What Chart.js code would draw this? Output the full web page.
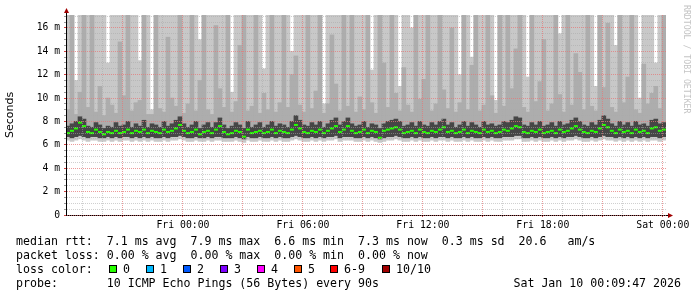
<!DOCTYPE html>
<html>
<head>
<meta charset="utf-8">
<script src="https://cdn.jsdelivr.net/npm/chart.js@4.4.1/dist/chart.umd.min.js"></script>
<style>
  body { margin: 0; background: #fff; }
  #page { position: relative; width: 697px; height: 297px; overflow: hidden; background: #fff; }
  #graph { position: absolute; left: 0; top: 0; }
  .txt { position: absolute; font-family: 'DejaVu Sans Mono', monospace; font-size: 11.6px; line-height: 14px; white-space: pre; color: #000; }
  .box { position: absolute; width: 8px; height: 8px; box-sizing: border-box; border: 1px solid #000; }
  #mark { position: absolute; left: 683px; top: 5px; writing-mode: vertical-rl; font-family: 'DejaVu Sans Mono', monospace; font-size: 8.2px; line-height: 8px; color: #c4c4c4; white-space: pre; }
</style>
</head>
<body>
<div id="page">
  <canvas id="graph" width="697" height="297"></canvas>
  <div id="mark">RRDTOOL / TOBI OETIKER</div>
  <div class="txt" style="left:16px;top:234px">median rtt:  7.1 ms avg  7.9 ms max  6.6 ms min  7.3 ms now  0.3 ms sd  20.6   am/s</div>
  <div class="txt" style="left:16px;top:248px">packet loss: 0.00 % avg  0.00 % max  0.00 % min  0.00 % now</div>
  <div class="txt" style="left:16px;top:262px">loss color:</div>
  <div id="losskey"></div>
  <div class="txt" style="left:16px;top:276px">probe:       10 ICMP Echo Pings (56 Bytes) every 90s</div>
  <div class="txt" style="right:16px;top:276px">Sat Jan 10 00:09:47 2026</div>
</div>
<script>
// time axis: hours relative to Fri 00:00, one sample every 12 minutes
const startHour = -5.85;
const endHour = 24.16;
const stepHour = 0.2;

// hour -> label (only every 6 hours gets text)
const hourLabels = { 0: 'Fri 00:00', 6: 'Fri 06:00', 12: 'Fri 12:00', 18: 'Fri 18:00', 24: 'Sat 00:00' };

// loss legend
const lossNames = ['0', '1', '2', '3', '4', '5', '6-9', '10/10'];
const lossColors = ['#26ff00', '#00b8ff', '#0059ff', '#7e00ff', '#ff00ff', '#ff5500', '#ff0000', '#a10000'];
const lossBoxX = [109, 146, 183, 220, 257, 294, 330, 382];

// median rtt (ms)
const median = [
  7.0, 7.2, 7.4, 7.9, 7.6, 7.1, 7.0, 7.3, 7.1, 6.9,
  7.1, 7.0, 7.2, 7.0, 7.1, 7.3, 7.0, 7.2, 7.1, 7.3,
  7.0, 7.2, 7.1, 7.0, 7.3, 7.1, 7.2, 7.4, 7.7, 7.2,
  7.0, 7.1, 7.3, 6.9, 7.1, 7.2, 7.0, 7.3, 7.6, 7.1,
  6.9, 7.0, 7.2, 7.1, 6.7, 7.3, 7.0, 7.1, 7.2, 7.0,
  7.1, 7.3, 7.0, 7.2, 7.1, 7.0, 7.3, 7.7, 7.4, 7.1,
  7.0, 7.2, 7.1, 7.3, 7.0, 7.2, 7.4, 7.6, 7.1, 7.3,
  7.6, 7.2, 7.0, 7.1, 7.3, 7.0, 7.2, 7.1, 6.6, 7.2,
  7.3, 7.4, 7.5, 7.3, 7.0, 7.1, 7.2, 7.0, 7.3, 7.1,
  7.0, 7.2, 7.1, 7.3, 7.5, 7.1, 7.2, 7.0, 7.1, 7.3,
  7.0, 7.2, 7.1, 7.0, 7.3, 7.1, 7.2, 7.0, 7.1, 7.3,
  7.2, 7.4, 7.6, 7.5, 7.1, 7.0, 7.2, 7.1, 7.3, 7.0,
  7.1, 7.2, 7.0, 7.3, 7.1, 7.2, 7.4, 7.6, 7.3, 7.1,
  7.0, 7.2, 7.1, 7.4, 7.7, 7.5, 7.2, 7.0, 7.3, 7.1,
  7.2, 7.0, 7.3, 7.1, 7.2, 7.0, 7.4, 7.5, 7.2, 7.3
];

// top of the dense dark smoke around the median
const darkTop = [
  7.6, 7.8, 8.0, 8.4, 8.2, 7.6, 7.5, 7.9, 7.7, 7.4,
  7.6, 7.5, 7.9, 7.6, 7.7, 8.0, 7.5, 7.8, 7.6, 8.1,
  7.5, 7.8, 7.7, 7.5, 8.0, 7.6, 7.8, 8.1, 8.4, 7.8,
  7.5, 7.7, 8.0, 7.4, 7.7, 7.9, 7.5, 7.9, 8.3, 7.7,
  7.4, 7.6, 7.9, 7.7, 7.4, 8.0, 7.5, 7.7, 7.9, 7.5,
  7.7, 8.0, 7.6, 7.8, 7.7, 7.5, 8.0, 8.5, 8.1, 7.7,
  7.6, 7.9, 7.7, 8.0, 7.5, 7.8, 8.1, 8.3, 7.7, 8.0,
  8.3, 7.8, 7.6, 7.7, 8.0, 7.5, 7.8, 7.7, 7.4, 7.8,
  8.0, 8.1, 8.2, 8.0, 7.6, 7.7, 7.9, 7.6, 8.0, 7.7,
  7.6, 7.9, 7.7, 8.0, 8.2, 7.7, 7.9, 7.5, 7.7, 8.0,
  7.6, 7.9, 7.7, 7.5, 8.0, 7.7, 7.8, 7.6, 7.7, 8.0,
  7.9, 8.1, 8.4, 8.3, 7.7, 7.6, 7.9, 7.7, 8.0, 7.6,
  7.7, 7.9, 7.6, 8.0, 7.7, 7.8, 8.1, 8.3, 8.0, 7.7,
  7.6, 7.9, 7.7, 8.1, 8.5, 8.2, 7.8, 7.6, 8.0, 7.7,
  7.9, 7.6, 8.0, 7.7, 7.8, 7.6, 8.1, 8.2, 7.8, 7.9
];

// upper edge of the middle grey smoke (2nd highest ping)
const highPing = [
  9.0, 18, 8.6, 10.5, 18, 9.2, 18, 8.8, 11.0, 8.5,
  10.0, 9.4, 8.7, 14.8, 10.2, 18, 8.9, 9.6, 9.8, 18,
  8.6, 8.6, 18, 9.1, 8.8, 15.2, 10.0, 9.3, 18, 8.7,
  9.5, 18, 8.9, 11.5, 18, 9.0, 8.6, 16.2, 10.8, 9.2,
  18, 8.8, 9.7, 14.5, 18, 8.9, 9.3, 18, 8.7, 10.4,
  9.0, 18, 8.8, 9.6, 18, 9.2, 12.0, 13.6, 9.4, 8.8,
  18, 9.1, 10.6, 18, 8.7, 9.5, 15.4, 11.2, 8.9, 18,
  9.3, 18, 8.8, 10.1, 9.0, 18, 9.6, 8.7, 18, 13.0,
  9.2, 18, 10.4, 8.9, 12.6, 9.4, 8.8, 18, 9.9, 11.6,
  18, 8.9, 9.5, 18, 10.7, 9.1, 16.0, 8.8, 9.6, 18,
  9.0, 12.8, 18, 8.9, 9.4, 18, 10.2, 8.7, 18, 9.3,
  18, 10.8, 14.2, 18, 9.2, 8.8, 18, 9.7, 11.4, 15.0,
  8.9, 9.5, 18, 10.3, 8.8, 18, 9.4, 13.8, 12.2, 9.0,
  18, 9.3, 8.9, 18, 10.9, 16.4, 9.2, 8.8, 18, 9.6,
  11.8, 18, 9.0, 8.7, 12.9, 9.5, 10.4, 11.0, 9.1, 18
];

// highest ping of each sample (18 = above the top of the graph)
const maxPing = [
  18, 18, 11.5, 18, 18, 18, 18, 18, 18, 18,
  13, 18, 18, 18, 18, 18, 18, 18, 13.2, 18,
  18, 9, 18, 18, 18, 18, 18, 18, 18, 18,
  18, 18, 18, 15, 18, 18, 18, 18, 18, 18,
  18, 10.5, 18, 18, 18, 18, 18, 18, 18, 12.5,
  18, 18, 18, 18, 18, 18, 14, 18, 18, 18,
  18, 18, 18, 18, 9.5, 18, 18, 18, 18, 18,
  18, 18, 18, 18, 18, 18, 12.4, 18, 18, 18,
  18, 18, 18, 11, 18, 18, 16, 18, 18, 18,
  18, 18, 18, 18, 18, 18, 18, 18, 12, 18,
  18, 13.5, 18, 18, 18, 18, 18, 9.8, 18, 18,
  18, 18, 18, 18, 18, 11.8, 18, 18, 18, 18,
  18, 18, 18, 15.5, 18, 18, 18, 18, 18, 18,
  18, 18, 11, 18, 18, 18, 18, 14.5, 18, 18,
  18, 18, 18, 10, 18, 18, 18, 13, 18, 18
];

// lower edge of the dark / middle smoke (2nd lowest ping)
const lowPing = [
  6.7, 6.6, 6.7, 6.8, 6.7, 6.6, 6.7, 6.7, 6.6, 6.6,
  6.7, 6.6, 6.7, 6.6, 6.7, 6.7, 6.6, 6.7, 6.6, 6.7,
  6.6, 6.7, 6.6, 6.6, 6.7, 6.6, 6.7, 6.7, 6.8, 6.7,
  6.6, 6.6, 6.7, 6.6, 6.6, 6.7, 6.6, 6.7, 6.7, 6.6,
  6.6, 6.6, 6.7, 6.6, 6.5, 6.7, 6.6, 6.6, 6.7, 6.6,
  6.6, 6.7, 6.6, 6.7, 6.6, 6.6, 6.7, 6.8, 6.7, 6.6,
  6.6, 6.7, 6.6, 6.7, 6.6, 6.7, 6.7, 6.8, 6.6, 6.7,
  6.7, 6.7, 6.6, 6.6, 6.7, 6.6, 6.7, 6.6, 6.5, 6.6,
  6.7, 6.7, 6.8, 6.7, 6.6, 6.6, 6.7, 6.6, 6.7, 6.6,
  6.6, 6.7, 6.6, 6.7, 6.7, 6.6, 6.7, 6.6, 6.6, 6.7,
  6.6, 6.7, 6.6, 6.6, 6.7, 6.6, 6.7, 6.6, 6.6, 6.7,
  6.7, 6.7, 6.8, 6.8, 6.6, 6.6, 6.7, 6.6, 6.7, 6.6,
  6.6, 6.7, 6.6, 6.7, 6.6, 6.7, 6.7, 6.8, 6.7, 6.6,
  6.6, 6.7, 6.6, 6.7, 6.8, 6.7, 6.7, 6.6, 6.7, 6.6,
  6.7, 6.6, 6.7, 6.6, 6.7, 6.6, 6.7, 6.7, 6.6, 6.7
];

// lowest ping of each sample
const minPing = [
  6.4, 6.3, 6.4, 6.5, 6.4, 6.3, 6.4, 6.4, 6.3, 6.3,
  6.4, 6.3, 6.4, 6.3, 6.4, 6.4, 6.3, 6.4, 6.3, 6.4,
  6.3, 6.4, 6.3, 6.3, 6.4, 6.3, 6.4, 6.4, 6.5, 6.4,
  6.3, 6.3, 6.4, 6.3, 6.3, 6.4, 6.3, 6.4, 6.4, 6.3,
  6.3, 6.3, 6.4, 6.3, 6.2, 6.4, 6.3, 6.3, 6.4, 6.3,
  6.3, 6.4, 6.3, 6.4, 6.3, 6.3, 6.4, 6.5, 6.4, 6.3,
  6.3, 6.4, 6.3, 6.4, 6.3, 6.4, 6.4, 6.5, 6.3, 6.4,
  6.4, 6.4, 6.3, 6.3, 6.4, 6.3, 6.4, 6.3, 6.2, 6.3,
  6.4, 6.4, 6.5, 6.4, 6.3, 6.3, 6.4, 6.3, 6.4, 6.3,
  6.3, 6.4, 6.3, 6.4, 6.4, 6.3, 6.4, 6.3, 6.3, 6.4,
  6.3, 6.4, 6.3, 6.3, 6.4, 6.3, 6.4, 6.3, 6.3, 6.4,
  6.4, 6.4, 6.5, 6.5, 6.3, 6.3, 6.4, 6.3, 6.4, 6.3,
  6.3, 6.4, 6.3, 6.4, 6.3, 6.4, 6.4, 6.5, 6.4, 6.3,
  6.3, 6.4, 6.3, 6.4, 6.5, 6.4, 6.4, 6.3, 6.4, 6.3,
  6.4, 6.3, 6.4, 6.3, 6.4, 6.3, 6.4, 6.4, 6.3, 6.4
];

const times = median.map((v, i) => startHour + stepHour * i + stepHour / 2);

function band(lo, hi) {
  return times.map((t, i) => ({ x: t, y: [lo[i], hi[i]] }));
}

// loss colour legend boxes
const key = document.getElementById('losskey');
lossNames.forEach((name, i) => {
  const b = document.createElement('div');
  b.className = 'box';
  b.style.left = lossBoxX[i] + 'px';
  b.style.top = '265px';
  b.style.background = lossColors[i];
  key.appendChild(b);
  const t = document.createElement('div');
  t.className = 'txt';
  t.style.left = (lossBoxX[i] + 14) + 'px';
  t.style.top = '262px';
  t.textContent = name;
  key.appendChild(t);
});

const MAJOR = 'rgba(230,120,120,0.75)';
const MINOR = 'rgba(170,170,170,0.55)';

// arrows at the ends of the axes, like rrdtool
const axisArrows = {
  id: 'axisArrows',
  afterDraw(chart) {
    const { ctx, chartArea: a } = chart;
    ctx.save();
    ctx.strokeStyle = '#000';
    ctx.lineWidth = 1;
    ctx.beginPath();
    ctx.moveTo(a.left + 0.5, a.top);
    ctx.lineTo(a.left + 0.5, a.top - 3);
    ctx.moveTo(a.right, a.bottom + 0.5);
    ctx.lineTo(a.right + 3, a.bottom + 0.5);
    ctx.stroke();
    ctx.fillStyle = '#a00000';
    ctx.beginPath();
    ctx.moveTo(a.left - 2, a.top - 2);
    ctx.lineTo(a.left + 3, a.top - 2);
    ctx.lineTo(a.left + 0.5, a.top - 7);
    ctx.closePath();
    ctx.fill();
    ctx.beginPath();
    ctx.moveTo(a.right + 2, a.bottom - 2);
    ctx.lineTo(a.right + 2, a.bottom + 3);
    ctx.lineTo(a.right + 7, a.bottom + 0.5);
    ctx.closePath();
    ctx.fill();
    ctx.restore();
  }
};

const barOpts = { grouped: false, borderWidth: 0, barPercentage: 1, categoryPercentage: 1 };

new Chart(document.getElementById('graph'), {
  type: 'bar',
  data: {
    datasets: [
      {
        type: 'line',
        label: 'median',
        data: times.map((t, i) => ({ x: t, y: median[i] })),
        showLine: false,
        pointStyle: 'line',
        pointRadius: 2,
        pointBorderWidth: 2,
        pointBorderColor: lossColors[0],
        pointBackgroundColor: lossColors[0]
      },
      Object.assign({ label: 'dark', data: band(lowPing, darkTop), backgroundColor: '#464646' }, barOpts),
      Object.assign({ label: 'mid', data: band(lowPing, highPing), backgroundColor: '#adadad' }, barOpts),
      Object.assign({ label: 'light', data: band(minPing, maxPing), backgroundColor: '#c8c8c8' }, barOpts)
    ]
  },
  options: {
    responsive: false,
    animation: false,
    events: [],
    layout: { padding: { left: 0, top: 15, right: 31, bottom: 0 } },
    plugins: { legend: { display: false }, tooltip: { enabled: false } },
    scales: {
      x: {
        type: 'linear',
        min: startHour,
        max: endHour,
        offset: false,
        afterFit(scale) { scale.height = 82; },
        border: { display: true, color: '#000', width: 1, dash: [1, 1], z: 1 },
        grid: {
          z: 1,
          offset: false,
          color: c => (c.tick && c.tick.value % 3 === 0 ? MAJOR : MINOR),
          tickColor: c => (c.tick && c.tick.value % 3 === 0 ? '#d04040' : '#999'),
          tickLength: 2,
          lineWidth: 1
        },
        ticks: {
          stepSize: 1,
          includeBounds: false,
          autoSkip: false,
          maxRotation: 0,
          padding: 3,
          color: '#000',
          font: { family: 'DejaVu Sans Mono', size: 9.8 },
          callback: v => hourLabels[v] || ''
        }
      },
      y: {
        min: 0,
        max: 17.1,
        afterFit(scale) { scale.width = 66; },
        border: { display: true, color: '#000', width: 1, dash: [1, 1], z: 1 },
        grid: {
          z: 1,
          color: c => (c.tick && c.tick.value % 2 === 0 ? MAJOR : MINOR),
          tickColor: c => (c.tick && c.tick.value % 2 === 0 ? '#d04040' : '#999'),
          tickLength: 2,
          lineWidth: 1
        },
        title: {
          display: true,
          text: 'Seconds',
          color: '#000',
          font: { family: 'DejaVu Sans', size: 11 },
          padding: { top: 4, bottom: 0 }
        },
        ticks: {
          stepSize: 0.5,
          includeBounds: false,
          autoSkip: false,
          padding: 4,
          color: '#000',
          font: { family: 'DejaVu Sans Mono', size: 9.7 },
          callback: v => (v % 2 === 0 ? (v === 0 ? '0' : v + ' m') : '')
        }
      }
    }
  },
  plugins: [axisArrows]
});
</script>
</body>
</html>
